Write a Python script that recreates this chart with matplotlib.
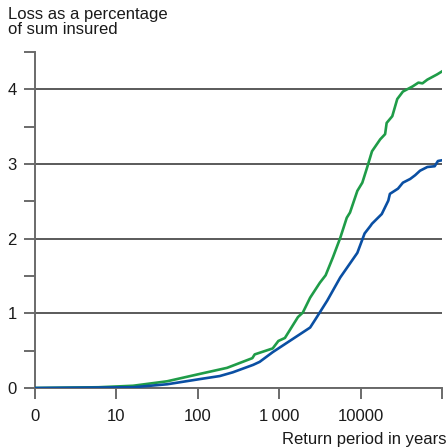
import numpy as np
import matplotlib
matplotlib.use("Agg")
import matplotlib.pyplot as plt
from matplotlib.ticker import FixedLocator, NullFormatter

plt.rcParams['font.family'] = ['Liberation Sans', 'DejaVu Sans']

# return period (years) vs loss in % of sum insured
green_years = [1, 6, 16, 42, 107, 229, 468, 500, 832, 977, 1175, 1700, 1950,
               2400, 3160, 3720, 4570, 5620, 6760, 7410, 9120, 10500, 12000,
               13800, 17400, 20000, 20900, 24500, 28200, 33100, 43700, 51300,
               57500, 66100, 87100, 100000]
green_loss = [0.0, 0.01, 0.03, 0.09, 0.19, 0.27, 0.40, 0.45, 0.53, 0.63, 0.67,
              0.95, 1.01, 1.21, 1.41, 1.51, 1.75, 2.01, 2.28, 2.35, 2.64, 2.75,
              2.95, 3.17, 3.33, 3.40, 3.55, 3.64, 3.87, 3.97, 4.04, 4.09, 4.08,
              4.13, 4.20, 4.24]

blue_years = [1, 16, 42, 107, 186, 269, 479, 575, 832, 2400, 2750, 3890, 5620,
              9120, 11200, 13200, 13800, 18200, 21900, 22900, 28800, 33100,
              40700, 46800, 53700, 66100, 81300, 89100, 100000]
blue_loss = [0.0, 0.01, 0.05, 0.12, 0.16, 0.21, 0.31, 0.35, 0.48, 0.81, 0.91,
             1.17, 1.48, 1.81, 2.07, 2.17, 2.20, 2.33, 2.51, 2.60, 2.67, 2.75,
             2.80, 2.85, 2.91, 2.96, 2.97, 3.04, 3.05]

x_ticks = [1, 10, 100, 1000, 10000, 100000]
x_labels = ["0", "10", "100", "1\u2009000", "10000", ""]
y_ticks = [0, 1, 2, 3, 4]

fig = plt.figure(figsize=(4.46, 4.48), dpi=100)
ax = fig.add_axes([35 / 446, 60 / 448, 407 / 446, 336 / 448])

for y in y_ticks:
    ax.axhline(y, color="#5a5a5a", lw=1.4, zorder=1)

ax.plot(green_years, green_loss, color="#1f9c48", lw=1.9, zorder=3)
ax.plot(blue_years, blue_loss, color="#0a4fa3", lw=1.9, zorder=4)

ax.set_xscale("log")
ax.set_xlim(1, 100000)
ax.set_ylim(0, 4.5)

ax.xaxis.set_major_locator(FixedLocator(x_ticks))
ax.xaxis.set_minor_locator(FixedLocator([]))
ax.xaxis.set_minor_formatter(NullFormatter())
ax.set_xticks(x_ticks, x_labels)
ax.set_yticks(y_ticks)
ax.set_yticks([0.5, 1.5, 2.5, 3.5, 4.5], minor=True)

for side in ["top", "right"]:
    ax.spines[side].set_visible(False)
for side in ["left", "bottom"]:
    ax.spines[side].set_color("#6a6a6a")
    ax.spines[side].set_linewidth(1.4)

ax.tick_params(axis="both", which="both", length=8, width=1.4,
               color="#6a6a6a", labelsize=12, labelcolor="#1a1a1a")
ax.tick_params(axis="y", pad=5)
ax.tick_params(axis="x", pad=7)

fig.text(0.018, 0.985, "Loss as a percentage\nof sum insured", ha="left",
         va="top", fontsize=12, color="#1a1a1a", linespacing=1.0)
fig.text(1.0, 0.002, "Return period in years", ha="right", va="bottom",
         fontsize=12, color="#1a1a1a")

fig.savefig("out.png", dpi=100)
